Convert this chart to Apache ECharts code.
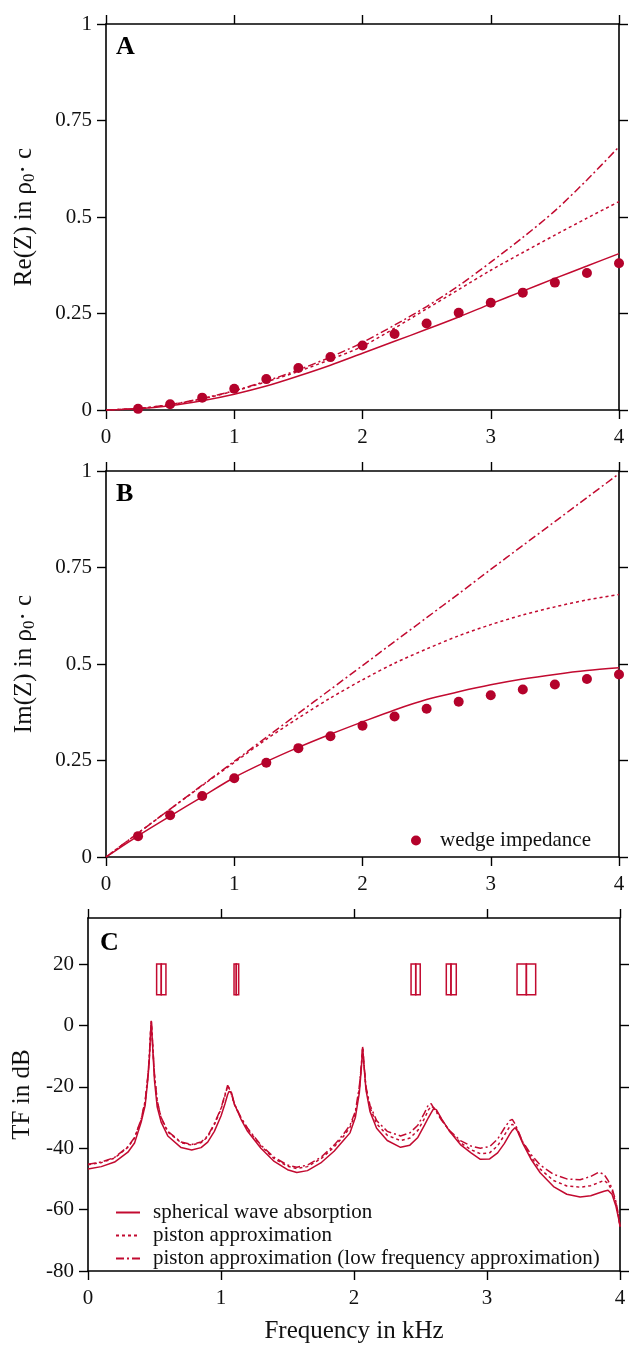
<!DOCTYPE html>
<html><head><meta charset="utf-8">
<script src="https://cdn.jsdelivr.net/npm/echarts@6/dist/echarts.min.js"></script>
<style>html,body{margin:0;padding:0;background:#fff}#c{width:629px;height:1345px}</style>
</head><body><div id="c"></div>
<script>
// ---------- data ----------
const freqAB = [0,0.25,0.5,0.75,1,1.25,1.5,1.75,2,2.25,2.5,2.75,3,3.25,3.5,3.75,4];
const freqDots = [0.25,0.5,0.75,1,1.25,1.5,1.75,2,2.25,2.5,2.75,3,3.25,3.5,3.75,4];

const reSpherical = [0,0.003,0.011,0.024,0.041,0.062,0.088,0.116,0.147,0.178,0.209,0.241,0.275,0.308,0.341,0.373,0.405];
const rePiston    = [0,0.004,0.014,0.029,0.049,0.073,0.100,0.131,0.165,0.212,0.262,0.312,0.362,0.408,0.453,0.497,0.540];
const rePistonLF  = [0,0.004,0.014,0.030,0.050,0.075,0.104,0.137,0.175,0.220,0.268,0.322,0.383,0.447,0.516,0.596,0.682];
const reWedge     = [0.003,0.015,0.032,0.055,0.080,0.109,0.137,0.167,0.197,0.224,0.252,0.278,0.304,0.330,0.355,0.380];

const imSpherical = [0,0.055,0.106,0.156,0.206,0.247,0.284,0.318,0.350,0.381,0.408,0.428,0.446,0.461,0.473,0.483,0.490];
const imPiston    = [0,0.062,0.124,0.185,0.245,0.305,0.360,0.412,0.459,0.502,0.539,0.573,0.602,0.627,0.648,0.666,0.680];
const imPistonLF  = [0,0.062,0.124,0.186,0.248,0.310,0.372,0.434,0.496,0.558,0.620,0.682,0.745,0.807,0.869,0.931,0.993];
const imWedge     = [0.054,0.108,0.158,0.204,0.244,0.282,0.313,0.340,0.364,0.384,0.402,0.419,0.434,0.447,0.461,0.473];

const freqC = [0,0.1,0.2,0.3,0.35,0.4,0.43,0.45,0.46,0.47,0.476,0.48,0.49,0.5,0.52,0.55,0.6,0.7,0.78,0.85,0.9,0.95,1.0,1.03,1.05,1.06,1.07,1.08,1.1,1.15,1.2,1.3,1.4,1.5,1.57,1.65,1.75,1.85,1.92,1.97,2.01,2.04,2.055,2.065,2.075,2.09,2.12,2.17,2.25,2.35,2.42,2.48,2.53,2.56,2.58,2.6,2.62,2.66,2.72,2.8,2.88,2.95,3.02,3.08,3.13,3.17,3.19,3.21,3.23,3.27,3.33,3.4,3.5,3.6,3.7,3.78,3.84,3.88,3.91,3.94,3.97,3.99,4.0];
const tfSpherical = [-46.8,-46.0,-44.5,-41.3,-38.3,-31.5,-26,-17.5,-12,-3,1.5,-2,-10,-18,-26.5,-31.5,-36,-39.8,-40.6,-39.8,-38.0,-34.5,-29.5,-25.5,-22.5,-21.5,-21.0,-22,-25.5,-30.5,-34.5,-40,-44.3,-47.0,-47.9,-47.3,-44.8,-41,-37.5,-35,-30,-22,-14,-7.0,-13,-21,-28,-33.5,-37.5,-39.7,-39.0,-36.5,-32.5,-30,-28.5,-27.0,-27.5,-30.5,-34.6,-38.8,-41.5,-43.6,-43.5,-41.5,-38.5,-35.5,-34.2,-33.3,-34.5,-38.5,-43.5,-48,-52.5,-55,-55.9,-55.5,-54.6,-54,-53.7,-55,-59,-63,-65.5];
const tfPiston = [-45.4,-44.7,-43.2,-39.7,-36.7,-30.7,-24.7,-16.7,-11.2,-2.7,1.4,-1.7,-9.2,-16.2,-24.7,-30.2,-34.7,-38.2,-39.0,-38.2,-36.3,-32.3,-27.3,-22.8,-19.8,-20.2,-21.2,-22.7,-25.7,-30.2,-33.8,-39.3,-43.4,-45.9,-46.6,-46.0,-43.5,-39.6,-36.2,-33.2,-28.7,-20.7,-13.5,-7.1,-12.8,-20.5,-26.8,-32,-35.8,-37.5,-36.7,-34.2,-30.3,-27.5,-26.3,-26.8,-27.9,-30.8,-34.5,-38.2,-40.5,-41.8,-41.5,-39.2,-35.8,-33,-32.2,-32.8,-34.2,-38.2,-42.8,-46.8,-50.5,-52.3,-52.7,-52.2,-51.2,-50.5,-51.5,-53.8,-58,-62.5,-65.5];
const tfPistonLF = [-45.2,-44.5,-43,-39.5,-36.5,-30.5,-24.5,-16.5,-11,-2.5,1.5,-1.5,-9,-16,-24.5,-30,-34.5,-38.0,-38.8,-38,-36,-32,-27,-22.5,-19.5,-20,-21,-22.5,-25.5,-30,-33.5,-39,-43,-45.5,-46.2,-45.5,-43,-39,-35.5,-32.5,-28,-20,-13,-7.2,-12.5,-20,-26,-31,-34.5,-36.0,-35.0,-32.5,-28.5,-25.8,-25.5,-27,-28.3,-31,-34.3,-37.5,-39.3,-40.0,-39.5,-37,-33.5,-31,-30.6,-32,-34,-38,-42,-45.5,-48.5,-50,-50.3,-49.2,-47.8,-48.5,-50.5,-53,-57.5,-62,-65.5];

// mode boxes (kHz): left edge, divider, right edge; drawn from 10 to 20 dB
const boxLeft  = [0.516,1.098,2.429,2.694,3.226];
const boxMid   = [0.551,1.115,2.464,2.729,3.296];
const boxRight = [0.586,1.133,2.498,2.769,3.366];
const boxLow = 10, boxHigh = 20;

const tfTicks = [-80,-60,-40,-20,0,20];

const NAME_S = 'spherical wave absorption';
const NAME_P = 'piston approximation';
const NAME_L = 'piston approximation (low frequency approximation)';
const NAME_W = 'wedge impedance';

// ---------- chart ----------
const RED = '#c20a30';
const DOT = '#b4022b';
const FONT = 'Liberation Serif';
const chart = echarts.init(document.getElementById('c'), null, {renderer:'canvas'});
const zip = (xs, ys) => xs.map((x,i)=>[x, ys[i]]);

const grids = [
  {left:106, top:24, width:513, height:386},
  {left:106, top:471, width:513, height:386},
  {left:88, top:918, width:532, height:359}
];
const axisLine = {show:true, onZero:false, lineStyle:{color:'#000', width:1.6}};
const axisTick = {show:true, inside:false, length:9, lineStyle:{color:'#000', width:1.4}};
const lblStyle = {fontFamily:FONT, fontSize:21, color:'#111'};

const xAxes = [], yAxes = [];
grids.forEach((g,i)=>{
  xAxes.push({gridIndex:i, type:'value', min:0, max:4, interval:1, position:'bottom',
    axisLine, axisTick, splitLine:{show:false},
    axisLabel:Object.assign({margin:17}, lblStyle),
    name: i===2 ? 'Frequency in kHz' : '', nameLocation:'middle', nameGap:48,
    nameTextStyle:{fontFamily:FONT, fontSize:25, color:'#111'}});
  xAxes.push({gridIndex:i, type:'value', min:0, max:4, interval:1, position:'top',
    axisLine, axisTick, axisLabel:{show:false}, splitLine:{show:false}});
});
const yNameRich = {
  sub:{fontFamily:FONT, fontSize:17, color:'#111', padding:[10,0,0,0]},
  n:{fontFamily:FONT, fontSize:25, color:'#111'}
};
[0,1].forEach(i=>{
  yAxes.push({gridIndex:i, type:'value', min:0, max:1, interval:0.25, position:'left',
    axisLine, axisTick, splitLine:{show:false},
    axisLabel:Object.assign({margin:14}, lblStyle),
    name: i===0 ? '{n|Re(Z) in ρ}{sub|0}{n|· c}' : '{n|Im(Z) in ρ}{sub|0}{n|· c}',
    nameLocation:'middle', nameGap:68, nameRotate:90,
    nameTextStyle:{fontFamily:FONT, fontSize:25, color:'#111', rich:yNameRich}});
  yAxes.push({gridIndex:i, type:'value', min:0, max:1, interval:0.25, position:'right',
    axisLine, axisTick, axisLabel:{show:false}, splitLine:{show:false}});
});
yAxes.push({gridIndex:2, type:'value', min:-80, max:35, interval:20, position:'left',
  axisLine, axisTick:Object.assign({customValues:tfTicks}, axisTick), splitLine:{show:false},
  axisLabel:Object.assign({margin:14, customValues:tfTicks}, lblStyle),
  name:'TF in dB', nameLocation:'middle', nameGap:52, nameRotate:90,
  nameTextStyle:{fontFamily:FONT, fontSize:25, color:'#111'}});
yAxes.push({gridIndex:2, type:'value', min:-80, max:35, interval:20, position:'right',
  axisLine, axisTick:Object.assign({customValues:tfTicks}, axisTick), axisLabel:{show:false}, splitLine:{show:false}});

const ls = {
  s:{color:RED, width:1.5, type:'solid'},
  p:{color:RED, width:1.5, type:[3,3]},
  l:{color:RED, width:1.5, type:[8,3,2,3]}
};
function line(name, data, gi, style){
  return {type:'line', name, data, xAxisIndex:gi*2, yAxisIndex:gi*2, showSymbol:false, symbol:'none',
    smooth: gi<2 ? 0.3 : false, lineStyle:style, itemStyle:{color:RED}, animation:false, z:3};
}
function dots(data, gi){
  return {type:'scatter', name:NAME_W, data, xAxisIndex:gi*2, yAxisIndex:gi*2, symbol:'circle', symbolSize:10,
    itemStyle:{color:DOT, opacity:1}, animation:false, z:4};
}
const boxData = boxLeft.map((x,i)=>[x, boxMid[i], boxRight[i], boxLow, boxHigh]);

const series = [
  line(NAME_S, zip(freqAB, reSpherical), 0, ls.s),
  line(NAME_P, zip(freqAB, rePiston), 0, ls.p),
  line(NAME_L, zip(freqAB, rePistonLF), 0, ls.l),
  dots(zip(freqDots, reWedge), 0),
  line(NAME_S, zip(freqAB, imSpherical), 1, ls.s),
  line(NAME_P, zip(freqAB, imPiston), 1, ls.p),
  line(NAME_L, zip(freqAB, imPistonLF), 1, ls.l),
  dots(zip(freqDots, imWedge), 1),
  line(NAME_S, zip(freqC, tfSpherical), 2, ls.s),
  line(NAME_P, zip(freqC, tfPiston), 2, ls.p),
  line(NAME_L, zip(freqC, tfPistonLF), 2, ls.l),
  {type:'custom', name:'modes', xAxisIndex:4, yAxisIndex:4, data:boxData, animation:false,
   renderItem:(params, api)=>{
     const a = api.coord([api.value(0), api.value(4)]);
     const m = api.coord([api.value(1), api.value(3)]);
     const b = api.coord([api.value(2), api.value(3)]);
     const st = {fill:'none', stroke:RED, lineWidth:1.5};
     return {type:'group', children:[
       {type:'rect', shape:{x:a[0], y:a[1], width:m[0]-a[0], height:b[1]-a[1]}, style:st},
       {type:'rect', shape:{x:m[0], y:a[1], width:b[0]-m[0], height:b[1]-a[1]}, style:st}
     ]};
   }}
];

chart.setOption({
  animation:false,
  backgroundColor:'#fff',
  grid:grids,
  xAxis:xAxes,
  yAxis:yAxes,
  legend:[
    {data:[NAME_W], left:406, top:825, orient:'vertical', icon:'circle', itemWidth:10, itemHeight:10,
     selectedMode:false, textStyle:{fontFamily:FONT, fontSize:21, color:'#111', padding:[0,0,0,14]}},
    {data:[NAME_S, NAME_P, NAME_L], left:110, top:1197, orient:'vertical', itemWidth:24, itemHeight:14, itemGap:2,
     selectedMode:false, itemStyle:{opacity:0},
     textStyle:{fontFamily:FONT, fontSize:21, color:'#111', padding:[0,0,0,8]}}
  ],
  graphic:[
    {type:'text', left:116, top:34, style:{text:'A', font:'bold 26px "Liberation Serif"', fill:'#000'}},
    {type:'text', left:116, top:481, style:{text:'B', font:'bold 26px "Liberation Serif"', fill:'#000'}},
    {type:'text', left:100, top:930, style:{text:'C', font:'bold 26px "Liberation Serif"', fill:'#000'}}
  ],
  series
});
</script></body></html>
